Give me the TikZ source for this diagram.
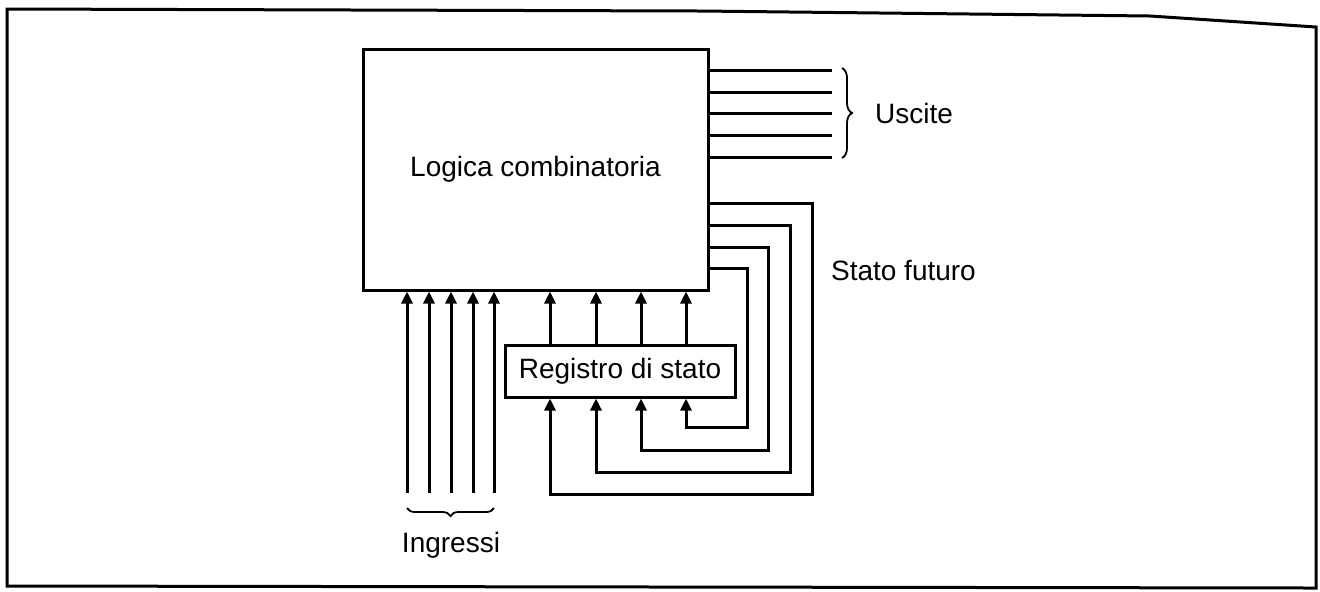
\documentclass[tikz,border=0pt]{standalone}
\usepackage{fontspec}
\setmainfont{Liberation Sans}
\usepackage{tikz}
\usetikzlibrary{
  arrows.meta,
  positioning,
  calc,
  decorations.pathreplacing,
}

\begin{document}
\begin{tikzpicture}[
  x=0.5pt, y=-0.5pt,
  font=\fontsize{14}{16}\selectfont,
  every node/.style={align=center},
  wire/.style={line width=1.5pt},
  arr/.style={wire, -{Triangle[length=6pt,width=5.5pt]}},
  blockbox/.style={draw, line width=1.5pt, inner sep=0pt},
  brc/.style={line width=0.9pt, decorate},
]

\useasboundingbox (0,0) rectangle (1320,591);
\draw[line width=1.5pt] (7,9) -- (700,11) -- (1150,16) -- (1316,27) -- (1316,588) -- (7,586) -- cycle;

% blocks
\node[blockbox, minimum width=172.5pt, minimum height=120.5pt] (logic) at (535.5,169.5) {Logica combinatoria};
\node[blockbox, minimum width=115pt, minimum height=26pt] (reg) at (620,371) {Registro di stato};

% uscite
\foreach \y in {70,92,113,135,157}
  \draw[wire] (logic.east |- 0,\y) -- (832,\y);
\draw[brc, decoration={brace, amplitude=5pt}] (842,68) -- (842,158);
\node[right] (uscite) at (868,113) {Uscite};

% stato futuro
\foreach \y/\xr/\yb/\xc in {203/812/494/550, 225/790/472/596, 247/768/450/641, 268/747/427/686}
  \draw[arr] (logic.east |- 0,\y) -| (\xr,\yb) -| (\xc,0 |- reg.south);
\node[right] (futuro) at (824,270) {Stato futuro};

\foreach \x in {550,596,641,686}
  \draw[arr] (\x,0 |- reg.north) -- (\x,0 |- logic.south);

% ingressi
\foreach \x [count=\i] in {407,429,451,473,494} {
  \coordinate (in\i) at (\x,493);
  \draw[arr] (in\i) -- (in\i |- logic.south);
}
\draw[brc, decoration={brace, mirror, amplitude=4pt}] (in1 |- 0,508) -- (in5 |- 0,508);
\node (ingressi) at (451,545) {Ingressi};

\end{tikzpicture}
\end{document}
